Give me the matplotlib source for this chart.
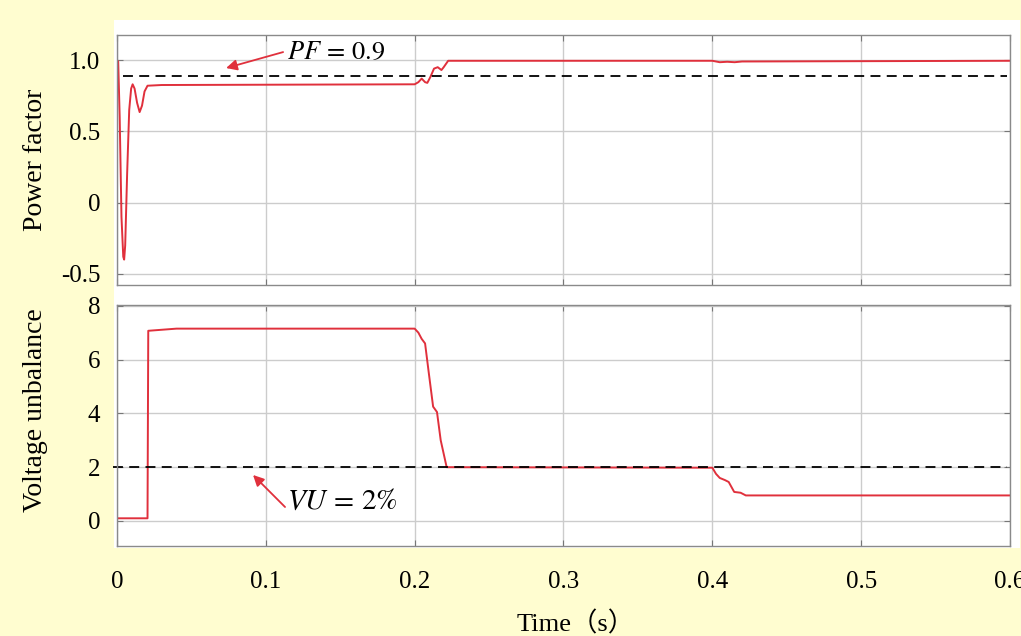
import matplotlib
matplotlib.use('Agg')
import matplotlib.pyplot as plt
from matplotlib.patches import Rectangle

plt.rcParams['font.family'] = ['Liberation Serif', 'Noto Sans CJK SC']
plt.rcParams['mathtext.fontset'] = 'stix'

# Power factor
pf_t = [0, 0.0008, 0.0018, 0.003, 0.0042, 0.0048, 0.0055, 0.0068, 0.0082, 0.0095,
        0.0105, 0.0118, 0.0135, 0.0152, 0.0168, 0.0185, 0.0205, 0.03, 0.2, 0.2025,
        0.2047, 0.207, 0.2085, 0.2105, 0.213, 0.2155, 0.218, 0.2195, 0.2225, 0.4,
        0.405, 0.41, 0.415, 0.42, 0.6]
pf_val = [1.0, 0.99, 0.6, -0.1, -0.38, -0.40, -0.3, 0.2, 0.65, 0.80,
          0.83, 0.80, 0.70, 0.635, 0.68, 0.78, 0.82, 0.825, 0.83, 0.845,
          0.87, 0.845, 0.84, 0.88, 0.94, 0.95, 0.93, 0.95, 0.995, 0.995,
          0.985, 0.988, 0.985, 0.99, 0.995]

# Voltage unbalance
vu_t = [0, 0.0205, 0.021, 0.04, 0.2, 0.2025, 0.2047, 0.207, 0.2095, 0.2124,
        0.215, 0.2175, 0.2215, 0.4, 0.4025, 0.405, 0.4085, 0.411, 0.4147, 0.419,
        0.4225, 0.6]
vu_val = [0.1, 0.1, 7.07, 7.15, 7.15, 7.0, 6.77, 6.6, 5.5, 4.25,
          4.05, 3.0, 2.0, 1.98, 1.75, 1.6, 1.52, 1.45, 1.08, 1.05,
          0.95, 0.95]

pf_limit = 0.89
vu_limit = 2.0

x_ticks = [0, 0.1, 0.2, 0.3, 0.4, 0.5, 0.6]
x_labels = ['0', '0.1', '0.2', '0.3', '0.4', '0.5', '0.6']
pf_ticks = [-0.5, 0, 0.5, 1.0]
pf_labels = ['-0.5', '0', '0.5', '1.0']
vu_ticks = [0, 2, 4, 6, 8]

red = '#E0303C'
fig = plt.figure(figsize=(10.21, 6.36), dpi=100)
fig.patch.set_facecolor('#FFFDD0')

# white panel behind the two axes
fig.patches.append(Rectangle((0.1117, 0.1384), 0.8873, 0.8302, transform=fig.transFigure,
                             facecolor='white', edgecolor='none', zorder=-5))

ax1 = fig.add_axes([0.1146, 0.5519, 0.8746, 0.3931])
ax2 = fig.add_axes([0.1146, 0.1415, 0.8746, 0.3790])

for ax in (ax1, ax2):
    ax.set_facecolor('white')
    ax.set_xlim(0, 0.6)
    ax.set_xticks(x_ticks)
    ax.grid(True, color='#CCCCCC', lw=1.0)
    ax.set_axisbelow(True)
    for sp in ax.spines.values():
        sp.set_color('#8A8A8A')
        sp.set_linewidth(1.0)
    ax.tick_params(direction='in', length=4, color='#777777', top=True, right=True,
                   labelsize=18, pad=12)

# top: power factor
ax1.plot(pf_t, pf_val, color=red, lw=1.4)
ax1.plot([0.004, 0.598], [pf_limit, pf_limit], color='black', lw=1.3, dashes=(5.5, 3.5))
ax1.set_ylim(-0.578, 1.176)
ax1.set_yticks(pf_ticks)
ax1.set_yticklabels(pf_labels)
ax1.set_xticklabels([])
ax1.text(0.1142, 1.05, r'$PF\,=\,0.9$', fontsize=19, ha='left', va='center')
ax1.annotate('', xy=(0.0733, 0.944), xytext=(0.1116, 1.056),
             arrowprops=dict(arrowstyle='-|>', color=red, lw=1.3, mutation_scale=16,
                             shrinkA=0, shrinkB=0))

# bottom: voltage unbalance
ax2.plot(vu_t, vu_val, color=red, lw=1.4)
ax2.plot([-0.003, 0.598], [vu_limit, vu_limit], color='black', lw=1.3, dashes=(5.5, 3.5),
         clip_on=False)
ax2.set_ylim(-0.93, 8.03)
ax2.set_yticks(vu_ticks)
ax2.set_xticklabels(x_labels)
ax2.tick_params(axis='x', pad=18)
ax2.text(0.1142, 0.71, r'$VU\,=\,2\%$', fontsize=21, ha='left', va='center')
ax2.annotate('', xy=(0.0914, 1.71), xytext=(0.1129, 0.52),
             arrowprops=dict(arrowstyle='-|>', color=red, lw=1.3, mutation_scale=16,
                             shrinkA=0, shrinkB=0))

fig.text(0.035, 0.748, 'Power factor', rotation=90, fontsize=20, ha='center', va='center')
fig.text(0.035, 0.355, 'Voltage unbalance', rotation=90, fontsize=20, ha='center', va='center')
fig.text(0.564, 0.019, 'Time（s）', fontsize=19, ha='center', va='center')

fig.savefig('out.png', dpi=100, facecolor=fig.get_facecolor())
